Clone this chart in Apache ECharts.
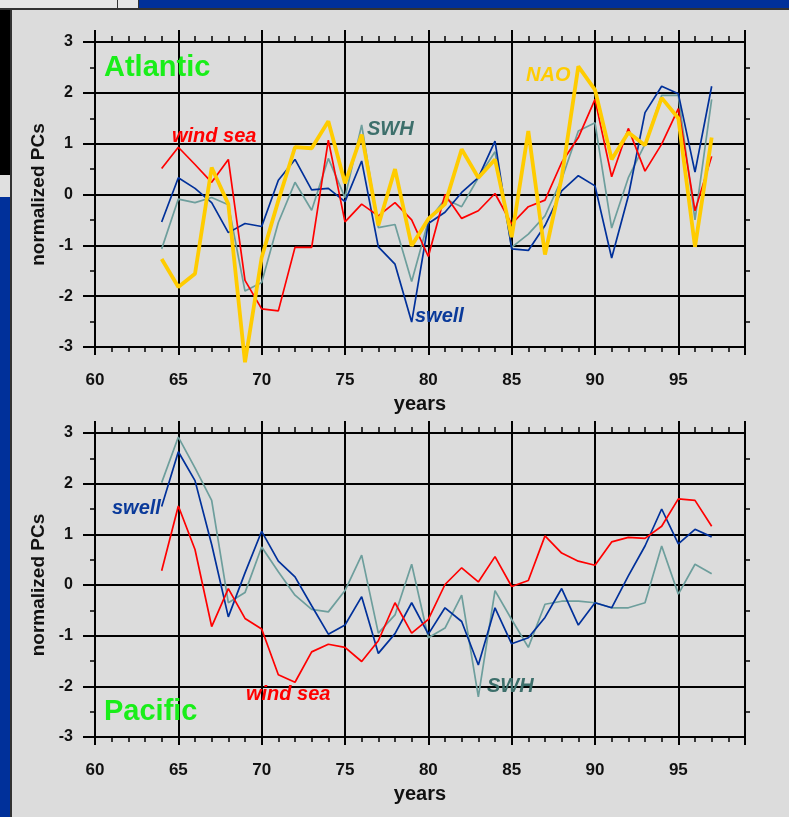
<!DOCTYPE html>
<html>
<head>
<meta charset="utf-8">
<script src="https://cdn.jsdelivr.net/npm/echarts@6/dist/echarts.min.js"></script>
<style>
html,body{margin:0;padding:0;background:#dcdcdc;}
#chart{width:789px;height:817px;}
</style>
</head>
<body>
<div id="chart"></div>
<script>
// ---- data ----
const years = [64,65,66,67,68,69,70,71,72,73,74,75,76,77,78,79,80,81,82,83,84,85,86,87,88,89,90,91,92,93,94,95,96,97];

const windSeaAtl = [0.51,0.93,0.59,0.24,0.69,-1.69,-2.25,-2.29,-1.04,-1.04,1.07,-0.54,-0.19,-0.42,-0.16,-0.5,-1.22,
                    0,-0.47,-0.32,0.02,-0.58,-0.24,-0.11,0.63,1.12,1.87,0.35,1.3,0.46,0.99,1.69,-0.32,0.75];
const swellAtl   = [-0.54,0.33,0.12,-0.16,-0.75,-0.57,-0.63,0.28,0.69,0.09,0.12,-0.14,0.66,-1.03,-1.37,-2.51,-0.57,
                    -0.35,0.04,0.33,1.05,-1.07,-1.1,-0.61,0.07,0.37,0.17,-1.25,-0.03,1.61,2.13,1.98,0.44,2.13];
const swhAtl     = [-1.07,-0.09,-0.16,-0.06,-0.2,-1.9,-1.73,-0.55,0.24,-0.31,0.71,-0.06,1.37,-0.65,-0.59,-1.71,-0.52,
                    -0.09,-0.24,0.33,0.84,-1.04,-0.78,-0.42,0.3,1.25,1.41,-0.66,0.33,0.99,1.95,1.95,-0.5,1.87];
const naoAtl     = [-1.27,-1.82,-1.56,0.53,-0.19,-3.3,-1.24,-0.12,0.93,0.91,1.44,0.22,1.18,-0.61,0.5,-1.01,-0.48,
                    -0.19,0.89,0.33,0.69,-0.84,1.25,-1.18,0.33,2.52,2.06,0.69,1.22,0.97,1.9,1.5,-1.03,1.12];

const windSeaPac = [0.28,1.56,0.7,-0.82,-0.07,-0.66,-0.87,-1.77,-1.92,-1.32,-1.17,-1.23,-1.51,-1.1,-0.35,-0.95,-0.68,
                    0.01,0.34,0.06,0.56,-0.03,0.09,0.97,0.63,0.47,0.39,0.85,0.94,0.92,1.16,1.7,1.67,1.16];
const swellPac   = [1.55,2.63,2.06,0.8,-0.63,0.24,1.06,0.47,0.16,-0.41,-0.97,-0.79,-0.23,-1.35,-0.96,-0.35,-0.97,
                    -0.45,-0.72,-1.58,-0.45,-1.16,-1.04,-0.64,-0.07,-0.79,-0.35,-0.45,0.18,0.77,1.5,0.81,1.1,0.95];
const swhPac     = [2.02,2.92,2.31,1.67,-0.35,-0.15,0.75,0.26,-0.2,-0.48,-0.53,-0.11,0.59,-0.95,-0.59,0.41,-1.04,
                    -0.85,-0.2,-2.21,-0.11,-0.68,-1.23,-0.38,-0.32,-0.32,-0.35,-0.45,-0.45,-0.35,0.77,-0.18,0.41,0.22];

const xTickLabels = [60,65,70,75,80,85,90,95];
const yTickLabels = [-3,-2,-1,0,1,2,3];

// ---- styling ----
const FONT = '"Liberation Sans", Arial, sans-serif';
const BLACK = '#000';
const C_RED = '#ff0000', C_BLUE = '#00309a', C_TEAL = '#6d9e9c', C_YEL = '#ffcc00';

const chart = echarts.init(document.getElementById('chart'), null, {renderer:'canvas'});

const grids = [
  {left:95, top:42, width:650, height:305},
  {left:95, top:433, width:650, height:304}
];

const xAxes = [], yAxes = [];
grids.forEach((g, gi) => {
  // bottom major
  xAxes.push({
    gridIndex: gi, type:'value', min:60, max:99, interval:5, position:'bottom',
    axisLine:{show:true, onZero:false, lineStyle:{color:BLACK, width:2}},
    axisTick:{show:true, length:8, lineStyle:{color:BLACK, width:2}},
    axisLabel:{margin:25, fontSize:17, fontWeight:'bold', color:'#111', fontFamily:FONT,
      formatter: v => xTickLabels.indexOf(v) >= 0 ? String(v) : ''},
    splitLine:{show:true, lineStyle:{color:BLACK, width:2}},
    name:'years', nameLocation:'middle', nameGap:47,
    nameTextStyle:{fontSize:20, fontWeight:'bold', color:'#111', fontFamily:FONT}
  });
  // bottom minor
  xAxes.push({
    gridIndex: gi, type:'value', min:60, max:99, interval:1, position:'bottom',
    axisLine:{show:false, onZero:false}, axisTick:{show:true, length:5, lineStyle:{color:BLACK, width:1.5}},
    axisLabel:{show:false}, splitLine:{show:false}
  });
  // top major
  xAxes.push({
    gridIndex: gi, type:'value', min:60, max:99, interval:5, position:'top',
    axisLine:{show:true, onZero:false, lineStyle:{color:BLACK, width:2}},
    axisTick:{show:true, length:12, lineStyle:{color:BLACK, width:2}},
    axisLabel:{show:false}, splitLine:{show:false}
  });
  // top minor
  xAxes.push({
    gridIndex: gi, type:'value', min:60, max:99, interval:1, position:'top',
    axisLine:{show:false, onZero:false}, axisTick:{show:true, length:6, lineStyle:{color:BLACK, width:1.5}},
    axisLabel:{show:false}, splitLine:{show:false}
  });
  // left
  yAxes.push({
    gridIndex: gi, type:'value', min:-3, max:3, interval:1, position:'left',
    axisLine:{show:true, onZero:false, lineStyle:{color:BLACK, width:2}},
    axisTick:{show:true, length:12, lineStyle:{color:BLACK, width:2}},
    minorTick:{show:true, splitNumber:2, length:5, lineStyle:{color:BLACK, width:1.5}},
    axisLabel:{margin:22, fontSize:16, fontWeight:'bold', color:'#111', fontFamily:FONT,
      formatter: v => yTickLabels.indexOf(v) >= 0 ? String(v) : ''},
    splitLine:{show:true, lineStyle:{color:BLACK, width:2}},
    name:'normalized PCs', nameLocation:'middle', nameGap:47, nameRotate:90,
    nameTextStyle:{fontSize:19, fontWeight:'bold', color:'#111', fontFamily:FONT}
  });
  // right
  yAxes.push({
    gridIndex: gi, type:'value', min:-3, max:3, interval:1, position:'right',
    axisLine:{show:true, onZero:false, lineStyle:{color:BLACK, width:2}},
    axisTick:{show:false},
    minorTick:{show:true, splitNumber:2, length:5, lineStyle:{color:BLACK, width:1.5}},
    axisLabel:{show:false}, splitLine:{show:false}
  });
});

function pairs(vals){ return years.map((y,i)=>[y, vals[i]]); }
function line(name, vals, color, width, gi, z){
  return {
    name, type:'line', xAxisIndex: gi*4, yAxisIndex: gi*2,
    data: pairs(vals), showSymbol:false, symbol:'none', clip:false,
    lineStyle:{color, width}, itemStyle:{color}, z: z || 2, animation:false
  };
}

const series = [
  line('SWH', swhAtl, C_TEAL, 1.7, 0, 2),
  line('swell', swellAtl, C_BLUE, 1.7, 0, 3),
  line('wind sea', windSeaAtl, C_RED, 1.7, 0, 4),
  line('NAO', naoAtl, C_YEL, 3.8, 0, 5),
  line('SWH', swhPac, C_TEAL, 1.7, 1, 2),
  line('swell', swellPac, C_BLUE, 1.7, 1, 3),
  line('wind sea', windSeaPac, C_RED, 1.7, 1, 4)
];

function label(text, x, y, color, size, italic){
  return {type:'text', x, y, z:20, style:{
    text, fill:color, font:(italic?'italic ':'') + 'bold ' + size + 'px ' + FONT,
    textVerticalAlign:'middle', textAlign:'left', verticalAlign:'middle', align:'left'}};
}

const graphic = [
  // screen frame decorations
  {type:'rect', shape:{x:0,y:0,width:789,height:8}, style:{fill:'#e6e6e6'}, z:0},
  {type:'rect', shape:{x:139,y:0,width:650,height:8}, style:{fill:'#00309a'}, z:0},
  {type:'rect', shape:{x:117,y:0,width:1,height:8}, style:{fill:'#333'}, z:0},
  {type:'rect', shape:{x:138,y:0,width:1,height:8}, style:{fill:'#333'}, z:0},
  {type:'rect', shape:{x:0,y:8,width:789,height:2}, style:{fill:'#333'}, z:0},
  {type:'rect', shape:{x:0,y:10,width:11,height:165}, style:{fill:'#000'}, z:0},
  {type:'rect', shape:{x:0,y:175,width:11,height:22}, style:{fill:'#e0e0e0'}, z:0},
  {type:'rect', shape:{x:0,y:197,width:11,height:620}, style:{fill:'#00309a'}, z:0},
  {type:'rect', shape:{x:10,y:8,width:2,height:809}, style:{fill:'#333'}, z:0},
  // annotations
  label('Atlantic', 104, 68, '#19ee19', 29, false),
  label('wind sea', 172, 136, C_RED, 20, true),
  label('SWH', 367, 129, '#3d6f6b', 20, true),
  label('NAO', 526, 75, C_YEL, 20, true),
  label('swell', 415, 316, '#0a3a9a', 20, true),
  label('swell', 112, 508, '#0a3a9a', 20, true),
  label('wind sea', 246, 694, C_RED, 20, true),
  label('SWH', 487, 686, '#3d6f6b', 20, true),
  label('Pacific', 104, 712, '#19ee19', 29, false)
];

chart.setOption({
  backgroundColor:'#dcdcdc',
  animation:false,
  grid: grids,
  xAxis: xAxes,
  yAxis: yAxes,
  series,
  graphic
});
</script>
</body>
</html>
